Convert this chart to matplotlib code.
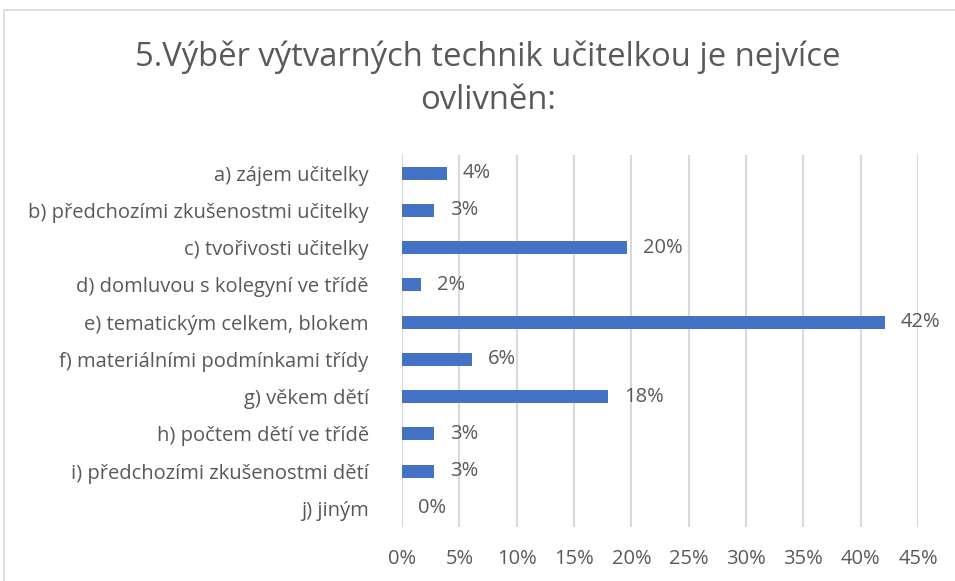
import matplotlib.pyplot as plt
from matplotlib.patches import Rectangle

plt.rcParams['font.family'] = ['Open Sans', 'DejaVu Sans']

# data (share of answers, in %)
categories = [
    'a) zájem učitelky',
    'b) předchozími zkušenostmi učitelky',
    'c) tvořivosti učitelky',
    'd) domluvou s kolegyní ve třídě',
    'e) tematickým celkem, blokem',
    'f) materiálními podmínkami třídy',
    'g) věkem dětí',
    'h) počtem dětí ve třídě',
    'i) předchozími zkušenostmi dětí',
    'j) jiným',
]
values = [3.9, 2.8, 19.6, 1.7, 42.1, 6.1, 18.0, 2.8, 2.8, 0.0]
value_labels = ['4%', '3%', '20%', '2%', '42%', '6%', '18%', '3%', '3%', '0%']
x_ticks = [0, 5, 10, 15, 20, 25, 30, 35, 40, 45]

W, H = 955, 581
text_col = '#595959'
grid_col = '#d9d9d9'
bar_col = '#4472c4'
fs = 14.5

fig = plt.figure(figsize=(W / 100, H / 100), dpi=100)
fig.patch.set_facecolor('white')

# chart frame (cut off at right and bottom in the original)
fig.patches.append(Rectangle((4 / W, -0.1), 1.2, 1.1 - 10 / H, transform=fig.transFigure,
                             fill=False, edgecolor=grid_col, linewidth=1.2))

left, right = 402 / W, 918 / W
top, bottom = 1 - 154.5 / H, 1 - 527 / H
ax = fig.add_axes([left, bottom, right - left, top - bottom])

ypos = list(range(len(categories)))
ax.barh(ypos, values, height=0.35, color=bar_col, zorder=3)
ax.set_ylim(len(categories) - 0.5, -0.5)
ax.set_xlim(0, 45)

for y, v, lab in zip(ypos, values, value_labels):
    ax.annotate(lab, (v, y), xytext=(16, 0), textcoords='offset pixels',
                va='center', ha='left', fontsize=fs, color=text_col)

ax.set_yticks(ypos)
ax.set_yticklabels(categories, fontsize=fs, color=text_col)
ax.set_xticks(x_ticks)
ax.set_xticklabels([f'{t}%' for t in x_ticks], fontsize=fs, color=text_col)
ax.tick_params(axis='y', length=0, pad=24)
ax.tick_params(axis='x', length=0, pad=16)
ax.grid(axis='x', color=grid_col, linewidth=1.5, zorder=0)
for s in ax.spines.values():
    s.set_visible(False)

fig.text(488 / W, 1 - 79 / H, '5.Výběr výtvarných technik učitelkou je nejvíce\novlivněn:',
         ha='center', va='center', fontsize=23.6, color=text_col, linespacing=1.4)

fig.savefig('out.png', dpi=100)
